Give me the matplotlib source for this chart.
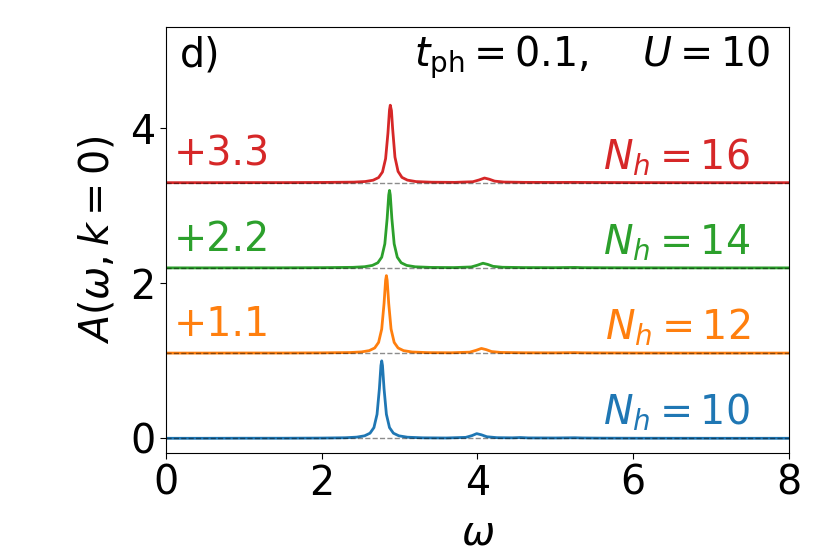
import matplotlib
matplotlib.use("Agg")
import matplotlib.pyplot as plt

# ---- data ----
offsets = [0.0, 1.1, 2.2, 3.3]
nh_labels = [10, 12, 14, 16]
colors = ["#1f77b4", "#ff7f0e", "#2ca02c", "#d62728"]

w_b = [0.0, 0.5, 1.0, 1.5, 2.0, 2.3, 2.45, 2.55, 2.62, 2.67, 2.71, 2.74, 2.76, 2.77, 2.78,
       2.80, 2.83, 2.87, 2.92, 2.99, 3.10, 3.30, 3.60, 3.85, 3.93, 3.99, 4.05, 4.12, 4.25,
       4.45, 4.55, 4.65, 5.0, 5.25, 5.35, 5.6, 6.0, 7.0, 8.0]
A_b = [0.000, 0.000, 0.001, 0.001, 0.003, 0.007, 0.015, 0.032, 0.066, 0.138, 0.31, 0.64, 0.94, 1.00, 0.94,
       0.64, 0.31, 0.138, 0.066, 0.032, 0.014, 0.006, 0.004, 0.012, 0.035, 0.060, 0.045, 0.020, 0.008,
       0.006, 0.010, 0.005, 0.004, 0.007, 0.004, 0.002, 0.001, 0.000, 0.000]

w_o = [0.0, 0.5, 1.0, 1.5, 2.0, 2.36, 2.51, 2.61, 2.68, 2.73, 2.77, 2.80, 2.82, 2.83, 2.84,
       2.86, 2.89, 2.93, 2.98, 3.05, 3.16, 3.36, 3.66, 3.90, 3.98, 4.05, 4.11, 4.18, 4.30,
       4.6, 5.0, 5.25, 5.35, 5.6, 6.0, 7.0, 8.0]
A_o = [0.000, 0.000, 0.001, 0.001, 0.003, 0.007, 0.015, 0.032, 0.066, 0.138, 0.31, 0.64, 0.94, 1.00, 0.94,
       0.64, 0.31, 0.138, 0.066, 0.032, 0.014, 0.006, 0.004, 0.012, 0.035, 0.060, 0.045, 0.020, 0.008,
       0.004, 0.003, 0.006, 0.003, 0.002, 0.001, 0.000, 0.000]

w_g = [0.0, 0.5, 1.0, 1.5, 2.0, 2.40, 2.55, 2.65, 2.72, 2.77, 2.81, 2.84, 2.86, 2.87, 2.88,
       2.90, 2.93, 2.97, 3.02, 3.09, 3.20, 3.40, 3.70, 3.92, 4.00, 4.07, 4.13, 4.20, 4.32,
       4.6, 5.0, 5.25, 5.35, 5.6, 6.0, 7.0, 8.0]
A_g = [0.000, 0.000, 0.001, 0.001, 0.003, 0.007, 0.015, 0.032, 0.066, 0.138, 0.31, 0.64, 0.94, 1.00, 0.94,
       0.64, 0.31, 0.138, 0.066, 0.032, 0.014, 0.006, 0.004, 0.012, 0.035, 0.060, 0.045, 0.020, 0.008,
       0.004, 0.003, 0.006, 0.003, 0.002, 0.001, 0.000, 0.000]

w_r = [0.0, 0.5, 1.0, 1.5, 2.0, 2.41, 2.56, 2.66, 2.73, 2.78, 2.82, 2.85, 2.87, 2.88, 2.895,
       2.91, 2.94, 2.98, 3.03, 3.10, 3.21, 3.41, 3.71, 3.94, 4.02, 4.09, 4.15, 4.22, 4.34,
       4.6, 5.0, 5.25, 5.35, 5.6, 6.0, 7.0, 8.0]
A_r = [0.000, 0.000, 0.001, 0.001, 0.003, 0.007, 0.015, 0.032, 0.066, 0.138, 0.31, 0.64, 0.94, 1.00, 0.93,
       0.70, 0.33, 0.145, 0.068, 0.033, 0.014, 0.006, 0.004, 0.012, 0.035, 0.060, 0.045, 0.020, 0.008,
       0.004, 0.003, 0.004, 0.003, 0.002, 0.001, 0.000, 0.000]

omegas = [w_b, w_o, w_g, w_r]
spectra = [A_b, A_o, A_g, A_r]
x_ticks = [0, 2, 4, 6, 8]
y_ticks = [0, 2, 4]

FS = 28.5
plt.rcParams["font.family"] = ["DejaVu Sans"]
plt.rcParams["mathtext.fontset"] = "dejavusans"

fig = plt.figure(figsize=(8.3, 5.54), dpi=100)
ax = fig.add_axes([0.2, 0.1823, 0.7506, 0.769])

for w, A, off, c, nh in zip(omegas, spectra, offsets, colors, nh_labels):
    ax.plot(w, [a + off for a in A], color=c, lw=2.0)
    ax.axhline(off, color="k", ls="--", lw=1.0, alpha=0.45)
    ax.text(7.5, off + 0.175, r"$N_h = %d$" % nh, color=c, fontsize=FS,
            ha="right", va="baseline")
    if off > 0:
        ax.text(0.10, off + 0.22, "+%.1f" % off, color=c, fontsize=FS,
                ha="left", va="baseline")

ax.text(0.022, 0.907, "d)", transform=ax.transAxes, fontsize=FS,
        ha="left", va="baseline")
ax.text(0.97, 0.907, r"$t_{\rm ph} = 0.1,\quad\, U = 10$", transform=ax.transAxes,
        fontsize=FS, ha="right", va="baseline")

ax.set_xlim(0, 8)
ax.set_ylim(-0.19, 5.31)
ax.set_xticks(x_ticks)
ax.set_yticks(y_ticks)
ax.tick_params(labelsize=FS, length=4.2)
ax.set_xlabel(r"$\omega$", fontsize=FS, labelpad=7)
ax.set_ylabel(r"$A(\omega, k=0)$", fontsize=FS, labelpad=9)

fig.savefig("out.png", dpi=100)
